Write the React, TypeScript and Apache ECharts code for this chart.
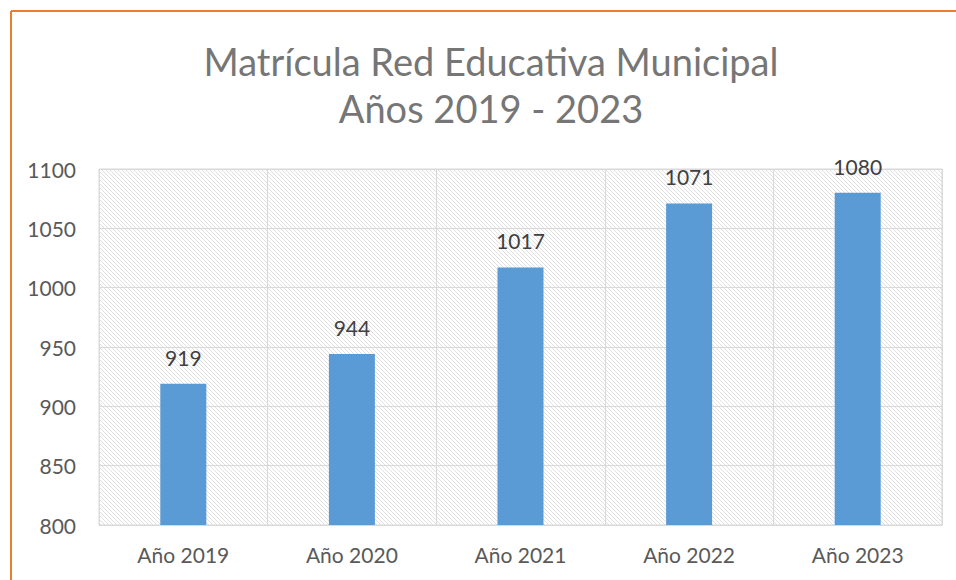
import React, { useEffect, useRef } from "react";
import * as echarts from "echarts";

const categories = ["Año 2019", "Año 2020", "Año 2021", "Año 2022", "Año 2023"];
const matricula = [919, 944, 1017, 1071, 1080];
const titleLines = ["Matrícula Red Educativa Municipal", "Años 2019 - 2023"];
const yMin = 800;
const yMax = 1100;
const yStep = 50;

const FONT = "Lato, 'Open Sans', sans-serif";

const hatchSvg =
  "<svg xmlns='http://www.w3.org/2000/svg' width='4' height='4'>" +
  "<path d='M-1,-1 L5,5 M3,-1 L5,1 M-1,3 L1,5' stroke='#e0e0e0' stroke-width='1'/></svg>";
const hatchUrl = "data:image/svg+xml;charset=utf-8," + encodeURIComponent(hatchSvg);

export default function App() {
  const ref = useRef<HTMLDivElement>(null);
  useEffect(() => {
    if (!ref.current) return;
    const chart = echarts.init(ref.current, undefined, { renderer: "svg" });
    chart.setOption({
      animation: false,
      backgroundColor: "#ffffff",
      graphic: [
        { type: "line", shape: { x1: 11, y1: 11, x2: 956, y2: 11 }, style: { stroke: "#ED7D31", lineWidth: 2 } },
        { type: "line", shape: { x1: 11, y1: 11, x2: 11, y2: 580 }, style: { stroke: "#ED7D31", lineWidth: 2 } },
        {
          type: "text",
          x: 491,
          y: 61,
          style: { text: titleLines[0], textAlign: "center", textVerticalAlign: "middle", font: `38px ${FONT}`, fill: "#767676" },
        },
        {
          type: "text",
          x: 491,
          y: 108,
          style: { text: titleLines[1], textAlign: "center", textVerticalAlign: "middle", font: `38px ${FONT}`, fill: "#767676" },
        },
      ],
      grid: {
        left: 99,
        right: 14,
        top: 169,
        bottom: 55,
        show: true,
        borderColor: "#d9d9d9",
        borderWidth: 1,
        backgroundColor: { image: hatchUrl, repeat: "repeat", imageWidth: 4, imageHeight: 4 },
      },
      xAxis: {
        type: "category",
        data: categories,
        axisTick: { show: false },
        axisLine: { lineStyle: { color: "#d9d9d9" } },
        splitLine: { show: true, lineStyle: { color: "#d9d9d9", width: 1 } },
        axisLabel: { color: "#595959", fontSize: 21, fontFamily: FONT, margin: 19 },
      },
      yAxis: {
        type: "value",
        min: yMin,
        max: yMax,
        interval: yStep,
        axisLine: { show: false },
        axisTick: { show: false },
        splitLine: { lineStyle: { color: "#d9d9d9", width: 1 } },
        axisLabel: { color: "#595959", fontSize: 21, fontFamily: FONT, margin: 23, formatter: (v: number) => String(v) },
      },
      series: [
        {
          type: "bar",
          data: matricula,
          barWidth: 46,
          itemStyle: { color: "#5B9BD5" },
          label: { show: true, position: "top", distance: 16, color: "#404040", fontSize: 21, fontFamily: FONT },
        },
      ],
    });
    return () => chart.dispose();
  }, []);
  return (
    <div style={{ position: "absolute", left: 0, top: 0, width: 956, height: 580 }}>
      <div ref={ref} style={{ width: 956, height: 580 }} />
    </div>
  );
}
